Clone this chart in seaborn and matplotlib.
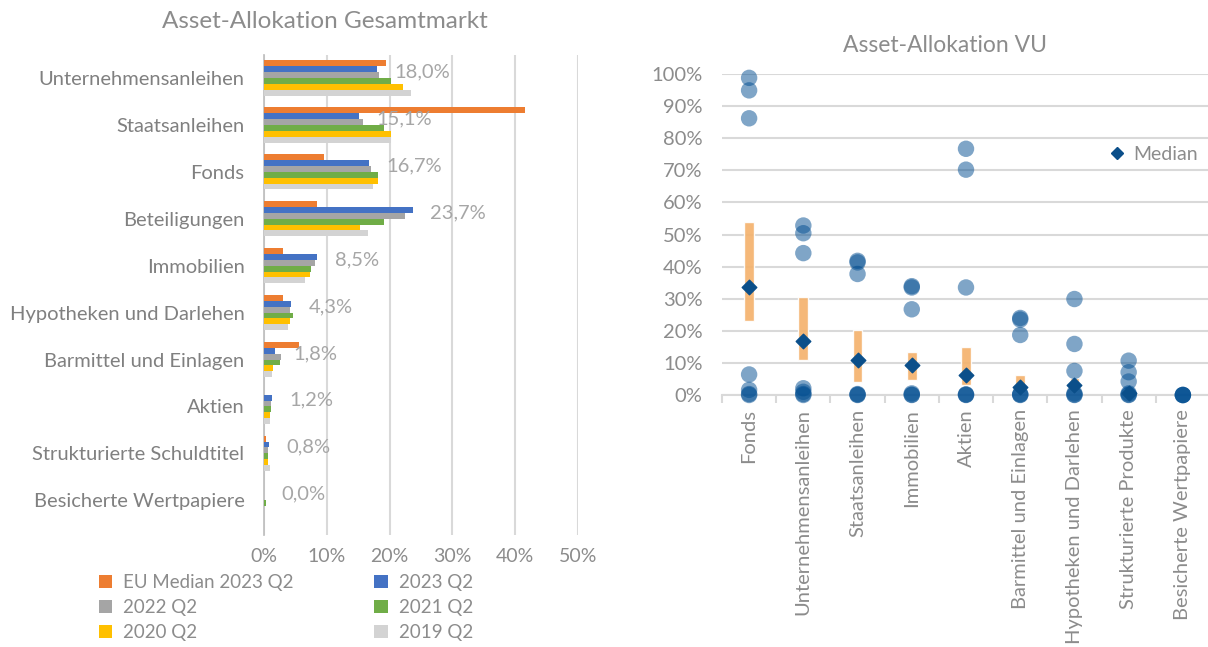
import numpy as np
import pandas as pd
import matplotlib.pyplot as plt
import seaborn as sns
from matplotlib.patches import Patch
from matplotlib.lines import Line2D

# --- left chart: asset allocation whole market (in %) ---
categories = ['Unternehmensanleihen', 'Staatsanleihen', 'Fonds', 'Beteiligungen',
              'Immobilien', 'Hypotheken und Darlehen', 'Barmittel und Einlagen',
              'Aktien', 'Strukturierte Schuldtitel', 'Besicherte Wertpapiere']
series = ['EU Median 2023 Q2', '2023 Q2', '2022 Q2', '2021 Q2', '2020 Q2', '2019 Q2']
eu_median = [19.5, 41.5, 9.5, 8.5, 3.0, 3.0, 5.6, 0.0, 0.3, 0.0]
q2_2023 = [18.0, 15.1, 16.7, 23.7, 8.5, 4.3, 1.8, 1.2, 0.8, 0.0]
q2_2022 = [18.3, 15.7, 17.0, 22.4, 8.1, 4.2, 2.7, 1.1, 0.7, 0.0]
q2_2021 = [20.3, 19.1, 18.1, 19.1, 7.5, 4.6, 2.5, 1.1, 0.7, 0.3]
q2_2020 = [22.2, 20.3, 18.1, 15.3, 7.3, 4.2, 1.5, 0.9, 0.7, 0.0]
q2_2019 = [23.4, 20.2, 17.4, 16.5, 6.5, 3.8, 1.3, 0.9, 0.9, 0.0]
bar_colors = ['#ED7D31', '#4472C4', '#A5A5A5', '#70AD47', '#FFC000', '#D3D3D3']
x_ticks = [0, 10, 20, 30, 40, 50]

# --- right chart: asset allocation of insurers (in %) ---
vu_categories = ['Fonds', 'Unternehmensanleihen', 'Staatsanleihen', 'Immobilien', 'Aktien',
                 'Barmittel und Einlagen', 'Hypotheken und Darlehen',
                 'Strukturierte Produkte', 'Besicherte Wertpapiere']
fonds_vu = [98.8, 94.9, 86.2, 6.4, 1.6, 0.3, 0.0]
unternehmen_vu = [52.8, 50.4, 44.2, 2.1, 1.0, 0.3, 0.0]
staats_vu = [41.8, 41.3, 37.7, 0.3, 0.1, 0.0]
immobilien_vu = [33.9, 33.5, 26.7, 0.5, 0.1, 0.0]
aktien_vu = [76.7, 70.2, 33.5, 0.2, 0.1, 0.0]
barmittel_vu = [24.0, 23.5, 18.7, 0.3, 0.1, 0.0]
hypotheken_vu = [29.9, 15.9, 7.5, 0.5, 0.1, 0.0]
strukturiert_vu = [10.7, 7.1, 4.2, 0.5, 0.1, 0.0]
besichert_vu = [0.0, 0.0, 0.0, 0.0]
range_low = [23.2, 10.9, 4.0, 4.7, 3.1, 1.0, 1.6, 0.2, np.nan]
range_high = [54.0, 30.5, 20.1, 13.4, 15.1, 6.2, 5.4, 1.0, np.nan]
medians = [33.8, 16.9, 10.9, 9.4, 6.2, 2.6, 3.1, 0.7, np.nan]
y_ticks = list(range(0, 101, 10))

sns.set_theme(style="white")
plt.rcParams['font.family'] = ['Lato', 'DejaVu Sans']

grey_txt = '#8C8C8C'
grid_col = '#D9D9D9'

fig = plt.figure(figsize=(12.08, 6.47), dpi=100)

# ---------- left ----------
ax1 = fig.add_axes([264 / 1208, 1 - 535 / 647, 314 / 1208, 480 / 647])
values = [eu_median, q2_2023, q2_2022, q2_2021, q2_2020, q2_2019]
df = pd.DataFrame({
    'category': np.tile(categories, len(series)),
    'series': np.repeat(series, len(categories)),
    'value': np.concatenate(values),
})
sns.barplot(data=df, x='value', y='category', hue='series', order=categories,
            hue_order=series, palette=bar_colors, orient='h', width=0.75,
            saturation=1, legend=False, ax=ax1, zorder=3, linewidth=0)
ax1.set_xlim(0, 50)
ax1.set_ylim(9.74, -0.49)
ax1.set_xticks(x_ticks)
ax1.set_xticklabels([f'{t}%' for t in x_ticks])
ax1.set_xlabel('')
ax1.set_ylabel('')
ax1.grid(axis='x', color=grid_col, linewidth=1.5, zorder=0)
for s in ['top', 'right', 'bottom']:
    ax1.spines[s].set_visible(False)
ax1.spines['left'].set_color('#BFBFBF')
ax1.tick_params(axis='x', colors=grey_txt, labelsize=14, length=0, pad=9)
ax1.tick_params(axis='y', colors=grey_txt, labelsize=14.5, length=0, pad=14)
for lab in ax1.get_yticklabels():
    lab.set_color('#808080')

for i, v in enumerate(q2_2023):
    ax1.text(v + 2.8, i - 0.13, f'{v:.1f}%'.replace('.', ','), color='#A6A6A6',
             fontsize=14.5, va='center', ha='left', zorder=5)

fig.text(325 / 1208, 1 - 22 / 647, 'Asset-Allokation Gesamtmarkt', ha='center',
         va='center', fontsize=17.5, color=grey_txt)

handles = [Patch(facecolor=c, edgecolor='none') for c in bar_colors]
order = [0, 2, 4, 1, 3, 5]
fig.legend([handles[k] for k in order], [series[k] for k in order], ncol=2,
           loc='upper left', bbox_to_anchor=(82 / 1208, 1 - 557 / 647),
           frameon=False, fontsize=13.5, labelcolor=grey_txt, handlelength=0.7,
           handleheight=0.7, handletextpad=0.6, columnspacing=4.3, labelspacing=0.42)

# ---------- right ----------
ax2 = fig.add_axes([722 / 1208, 1 - 395 / 647, 488 / 1208, 321 / 647])
vu_values = [fonds_vu, unternehmen_vu, staats_vu, immobilien_vu, aktien_vu,
             barmittel_vu, hypotheken_vu, strukturiert_vu, besichert_vu]
pos = np.arange(len(vu_categories))
dfp = pd.DataFrame({
    'pos': np.concatenate([[p] * len(v) for p, v in zip(pos, vu_values)]),
    'value': np.concatenate(vu_values),
})
ax2.bar(pos, np.array(range_high) - np.array(range_low), bottom=range_low,
        width=0.18, color='#F4B16B', alpha=0.9, zorder=2)
sns.scatterplot(data=dfp, x='pos', y='value', color='#004D91', alpha=0.5, s=140,
                edgecolor='none', ax=ax2, zorder=3, clip_on=False)
ax2.scatter(pos, medians, marker='D', s=55, color='#0B4F8A', zorder=4, clip_on=False)

ax2.set_xlim(-0.5, 8.5)
ax2.set_ylim(0, 100)
ax2.set_yticks(y_ticks)
ax2.set_yticklabels([f'{t}%' for t in y_ticks])
ax2.set_xticks(pos)
ax2.set_xticklabels(vu_categories, rotation=90)
ax2.set_xticks(np.arange(-0.5, 9, 1), minor=True)
ax2.set_xlabel('')
ax2.set_ylabel('')
ax2.grid(axis='y', color=grid_col, linewidth=1.5, zorder=0)
for s in ['top', 'right', 'left']:
    ax2.spines[s].set_visible(False)
ax2.spines['bottom'].set_color(grid_col)
ax2.spines['bottom'].set_linewidth(1.5)
ax2.tick_params(axis='y', colors=grey_txt, labelsize=14.5, length=0, pad=14)
ax2.tick_params(axis='x', which='major', colors=grey_txt, labelsize=14.5, length=0, pad=10)
ax2.tick_params(axis='x', which='minor', color=grid_col, length=6, width=1.5, bottom=True)

ax2.legend([Line2D([], [], marker='D', linestyle='none', color='#0B4F8A', markersize=6)],
           ['Median'], loc='upper right', bbox_to_anchor=(1215 / 1208, 1 - 128 / 647),
           bbox_transform=fig.transFigure, frameon=False, fontsize=14,
           labelcolor=grey_txt, handlelength=0.6, handletextpad=0.5)

fig.text(945 / 1208, 1 - 45 / 647, 'Asset-Allokation VU', ha='center', va='center',
         fontsize=16.5, color=grey_txt)

fig.savefig('out.png', dpi=100)
